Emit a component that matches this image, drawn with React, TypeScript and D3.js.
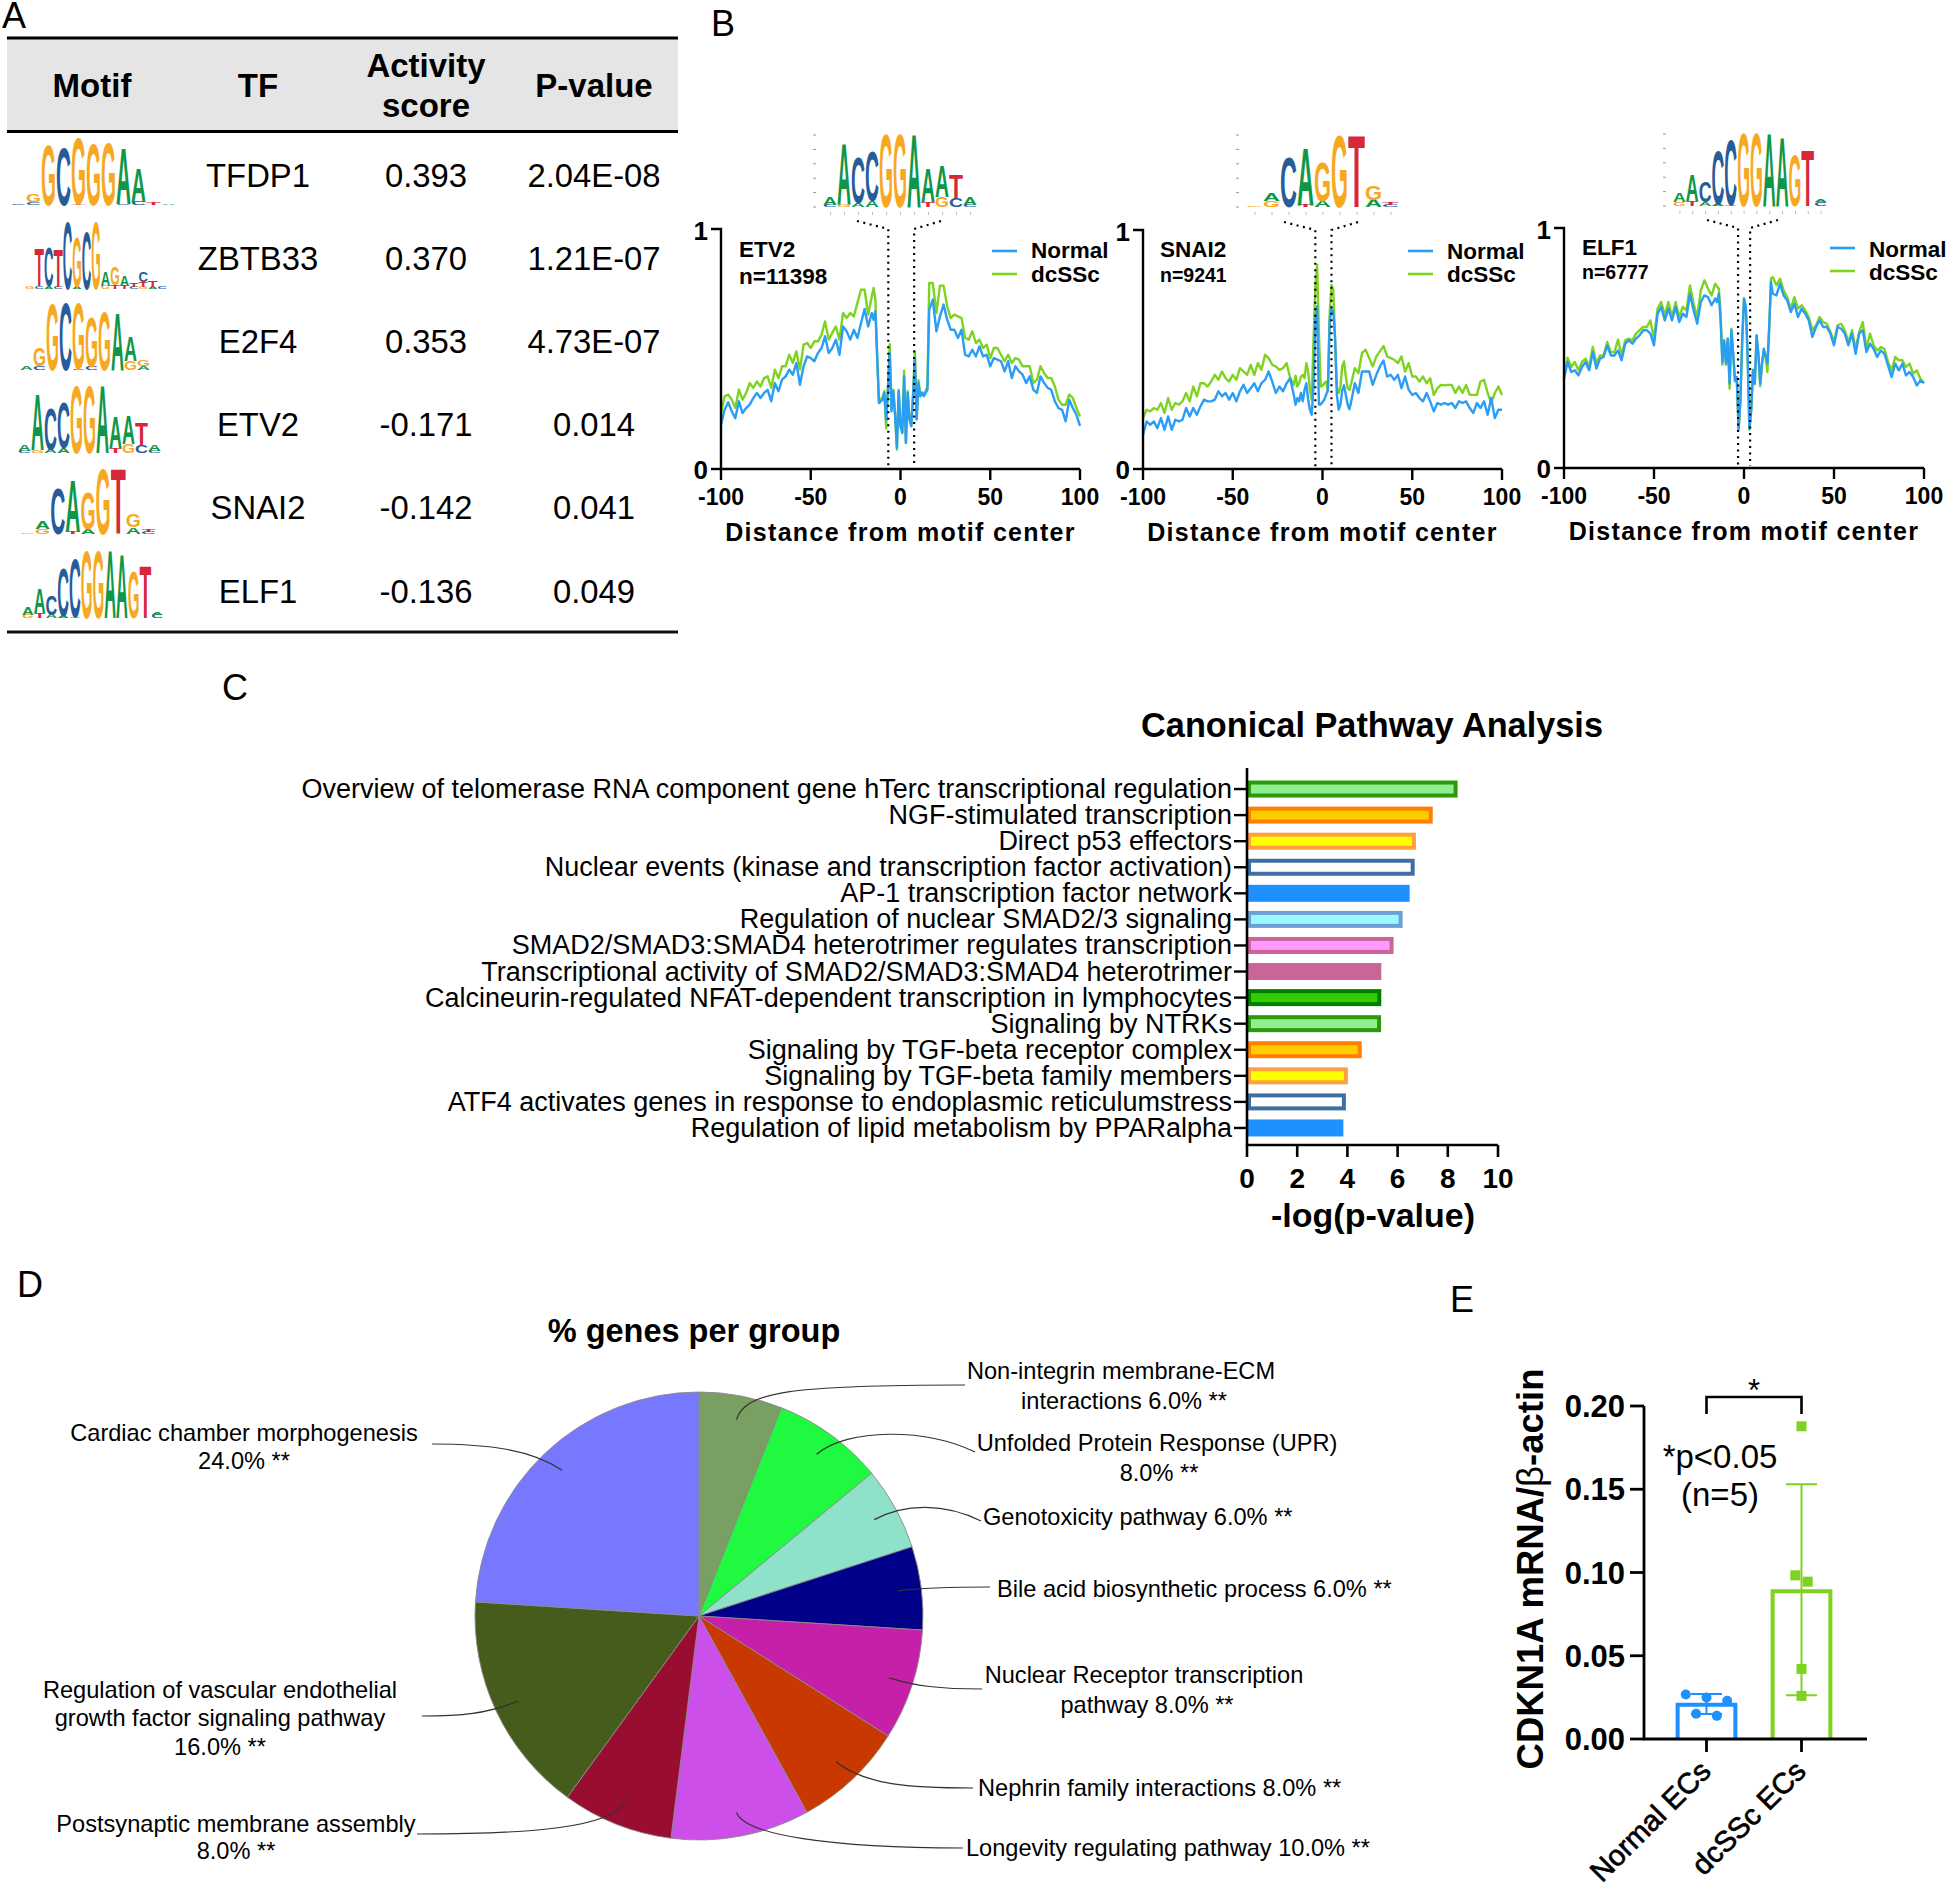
import React from "react";
import * as d3 from "d3";

const FONT = "'Liberation Sans', Arial, sans-serif";

// ---- Panel A table + motif logos
type LogoColumn = [string, number][];

const logoTfdp1: LogoColumn[] = [
  [["C", 0.02]], [["C", 0.04], ["G", 0.11]], [["G", 0.9]], [["C", 0.85]], [["T", 0.02], ["G", 0.98]],
  [["G", 0.92]], [["G", 0.93]], [["C", 0.02], ["A", 0.83]], [["C", 0.05], ["A", 0.5]], [["T", 0.03]], [["A", 0.02]],
];
const logoZbtb33: LogoColumn[] = [
  [["G", 0.03]], [["C", 0.04], ["T", 0.57]], [["A", 0.04], ["C", 0.58]], [["C", 0.03], ["T", 0.57]], [["C", 1]],
  [["A", 0.03], ["G", 0.74]], [["C", 0.85]], [["G", 1]], [["G", 0.05], ["A", 0.22]], [["T", 0.06], ["G", 0.27]],
  [["T", 0.05], ["A", 0.15]], [["C", 0.03], ["T", 0.06]], [["G", 0.03], ["T", 0.08], ["C", 0.16]], [["A", 0.03], ["T", 0.09]], [["C", 0.03]],
];
const logoE2f4: LogoColumn[] = [
  [["A", 0.05]], [["C", 0.06], ["G", 0.26]], [["G", 0.98]], [["C", 1]], [["C", 0.02], ["G", 0.98]],
  [["C", 0.05], ["G", 0.74]], [["G", 0.88]], [["A", 0.85]], [["G", 0.14], ["A", 0.36]], [["A", 0.06], ["G", 0.09]],
];
const logoEtv2: LogoColumn[] = [
  [["C", 0.03], ["A", 0.1]], [["G", 0.04], ["A", 0.83]], [["A", 0.05], ["C", 0.62]], [["A", 0.08], ["C", 0.67]], [["G", 1]],
  [["G", 1]], [["A", 1]], [["T", 0.07], ["A", 0.46]], [["G", 0.14], ["A", 0.42]], [["C", 0.12], ["T", 0.32]], [["C", 0.03], ["A", 0.1]],
];
const logoSnai2: LogoColumn[] = [
  [["G", 0.02]], [["G", 0.08], ["A", 0.11]], [["C", 0.68]], [["T", 0.03], ["A", 0.78]], [["A", 0.08], ["G", 0.54]],
  [["G", 0.97]], [["T", 0.97]], [["A", 0.1], ["G", 0.2]], [["C", 0.03], ["T", 0.03]],
];
const logoElf1: LogoColumn[] = [
  [["G", 0.05], ["A", 0.12]], [["T", 0.07], ["A", 0.36]], [["A", 0.05], ["C", 0.28]], [["A", 0.03], ["C", 0.72]], [["A", 0.02], ["C", 0.88]],
  [["G", 1]], [["G", 1]], [["A", 1]], [["A", 0.95]], [["G", 0.7]], [["T", 0.77]], [["C", 0.05], ["A", 0.04]],
];

const motifHeader = ["Motif", "TF", "P-value"];
const tfNames = ["TFDP1", "ZBTB33", "E2F4", "ETV2", "SNAI2", "ELF1"];
const activityScores = ["0.393", "0.370", "0.353", "-0.171", "-0.142", "-0.136"];
const pValues = ["2.04E-08", "1.21E-07", "4.73E-07", "0.014", "0.041", "0.049"];
const tableLogos = [logoTfdp1, logoZbtb33, logoE2f4, logoEtv2, logoSnai2, logoElf1];
const tableLogoBoxes = [[11, 176, 205], [25, 167, 289], [20, 150, 370], [18, 161, 453], [20, 156, 534], [22, 163, 618]];

// ---- Panel B footprints
const distances = [...d3.range(-100, -15, 2), ...d3.range(-15, 16), ...d3.range(16, 101, 2)];

const etv2Normal = [
  0.185, 0.247, 0.278, 0.24, 0.212, 0.282, 0.233, 0.254, 0.268, 0.296,
  0.317, 0.296, 0.317, 0.33, 0.282, 0.358, 0.324, 0.372, 0.386, 0.414,
  0.393, 0.442, 0.351, 0.428, 0.469, 0.462, 0.449, 0.483, 0.504, 0.553,
  0.483, 0.504, 0.539, 0.476, 0.594, 0.574, 0.539, 0.58, 0.546, 0.608,
  0.667, 0.594, 0.65,
  0.622, 0.657, 0.47, 0.275, 0.282, 0.289, 0.317, 0.206, 0.33, 0.483, 0.24, 0.324, 0.22, 0.0875, 0.324, 0.178,
  0.15, 0.386, 0.108, 0.317, 0.206, 0.178, 0.303, 0.4625, 0.206, 0.358, 0.303, 0.317, 0.303, 0.317, 0.33,
  0.664, 0.706, 0.574, 0.636, 0.685, 0.622, 0.58, 0.58, 0.546, 0.58,
  0.476, 0.469, 0.497, 0.469, 0.511, 0.469, 0.476, 0.428, 0.4625, 0.456,
  0.449, 0.407, 0.449, 0.379, 0.428, 0.407, 0.393, 0.358, 0.386, 0.33,
  0.317, 0.386, 0.358, 0.338, 0.33, 0.282, 0.254, 0.247, 0.199, 0.289,
  0.254, 0.226, 0.18,
];
const etv2Dcssc = [
  0.233, 0.303, 0.31, 0.289, 0.254, 0.331, 0.289, 0.317, 0.358, 0.338,
  0.365, 0.344, 0.379, 0.386, 0.338, 0.414, 0.379, 0.428, 0.428, 0.476,
  0.442, 0.49, 0.414, 0.518, 0.525, 0.504, 0.532, 0.532, 0.56, 0.615,
  0.539, 0.567, 0.594, 0.539, 0.65, 0.629, 0.65, 0.636, 0.692, 0.747,
  0.747, 0.643, 0.719,
  0.754, 0.706, 0.47, 0.285, 0.29, 0.3, 0.325, 0.17, 0.34, 0.52, 0.25, 0.33, 0.23, 0.08, 0.33, 0.18,
  0.155, 0.41, 0.11, 0.325, 0.21, 0.18, 0.31, 0.49, 0.21, 0.37, 0.31, 0.32, 0.31, 0.325, 0.345,
  0.775, 0.775, 0.65, 0.764, 0.764, 0.678, 0.629, 0.643, 0.636, 0.629,
  0.546, 0.539, 0.574, 0.525, 0.539, 0.504, 0.518, 0.4625, 0.504, 0.504,
  0.476, 0.449, 0.476, 0.442, 0.4625, 0.456, 0.428, 0.428, 0.428, 0.358,
  0.372, 0.428, 0.4, 0.379, 0.379, 0.344, 0.289, 0.268, 0.268, 0.31,
  0.296, 0.254, 0.219,
];
const snai2Normal = [
  0.143, 0.199, 0.185, 0.199, 0.171, 0.213, 0.164, 0.22, 0.164, 0.206,
  0.199, 0.206, 0.255, 0.22, 0.255, 0.227, 0.262, 0.29, 0.283, 0.283,
  0.29, 0.325, 0.304, 0.318, 0.29, 0.318, 0.283, 0.325, 0.352, 0.318,
  0.338, 0.359, 0.325, 0.359, 0.373, 0.408, 0.366, 0.318, 0.345, 0.325,
  0.359, 0.38, 0.31,
  0.269, 0.297, 0.283, 0.318, 0.283, 0.331, 0.359, 0.29, 0.248, 0.227, 0.35, 0.62, 0.68, 0.27, 0.27, 0.28,
  0.29, 0.31, 0.33, 0.62, 0.67, 0.66, 0.55, 0.31, 0.248, 0.27, 0.33, 0.35, 0.31, 0.27, 0.25,
  0.283, 0.359, 0.318, 0.408, 0.408, 0.408, 0.352, 0.394, 0.429, 0.454,
  0.387, 0.394, 0.373, 0.394, 0.338, 0.387, 0.331, 0.31, 0.318, 0.297,
  0.283, 0.318, 0.283, 0.241, 0.276, 0.269, 0.276, 0.269, 0.276, 0.255,
  0.283, 0.276, 0.283, 0.255, 0.234, 0.276, 0.255, 0.283, 0.227, 0.297,
  0.213, 0.248, 0.248,
];
const snai2Dcssc = [
  0.213, 0.248, 0.241, 0.255, 0.248, 0.276, 0.234, 0.297, 0.248, 0.276,
  0.269, 0.283, 0.318, 0.283, 0.345, 0.304, 0.359, 0.359, 0.345, 0.366,
  0.394, 0.373, 0.408, 0.38, 0.366, 0.394, 0.373, 0.422, 0.408, 0.394,
  0.436, 0.394, 0.443, 0.415, 0.478, 0.464, 0.436, 0.429, 0.415, 0.422,
  0.443, 0.38, 0.352,
  0.39, 0.345, 0.359, 0.387, 0.394, 0.38, 0.443, 0.408, 0.331, 0.29, 0.54, 0.763, 0.854, 0.568, 0.345, 0.348,
  0.359, 0.366, 0.325, 0.652, 0.77, 0.749, 0.54, 0.345, 0.318, 0.345, 0.429, 0.45, 0.387, 0.338, 0.331,
  0.359, 0.422, 0.401, 0.485, 0.499, 0.464, 0.429, 0.471, 0.492, 0.515,
  0.471, 0.464, 0.457, 0.443, 0.471, 0.408, 0.443, 0.387, 0.387, 0.366,
  0.387, 0.359, 0.38, 0.31, 0.338, 0.352, 0.35, 0.352, 0.352, 0.318,
  0.345, 0.318, 0.352, 0.31, 0.31, 0.31, 0.366, 0.373, 0.318, 0.276,
  0.318, 0.345, 0.31,
];
const elf1Normal = [
  0.372, 0.442, 0.4, 0.407, 0.386, 0.421, 0.442, 0.407, 0.483, 0.414,
  0.456, 0.4625, 0.511, 0.469, 0.469, 0.49, 0.449, 0.518, 0.532, 0.518,
  0.539, 0.553, 0.574, 0.574, 0.56, 0.511, 0.643, 0.671, 0.615, 0.664,
  0.615, 0.671, 0.608, 0.643, 0.629, 0.726, 0.657, 0.601, 0.692, 0.719,
  0.712, 0.678, 0.706,
  0.692, 0.726, 0.615, 0.442, 0.532, 0.435, 0.539, 0.351, 0.574, 0.476, 0.365, 0.379, 0.164, 0.282, 0.532, 0.706,
  0.671, 0.476, 0.164, 0.24, 0.407, 0.351, 0.553, 0.476, 0.351, 0.435, 0.497, 0.469, 0.435, 0.5875, 0.775,
  0.726, 0.719, 0.768, 0.719, 0.699, 0.65, 0.685, 0.629, 0.664, 0.643,
  0.615, 0.546, 0.5875, 0.615, 0.5875, 0.5875, 0.56, 0.511, 0.5875, 0.58,
  0.56, 0.511, 0.56, 0.476, 0.56, 0.574, 0.483, 0.518, 0.497, 0.4625,
  0.49, 0.476, 0.428, 0.379, 0.435, 0.407, 0.435, 0.386, 0.4, 0.379,
  0.344, 0.365, 0.354,
];
const elf1Dcssc = [
  0.379, 0.46, 0.421, 0.442, 0.407, 0.442, 0.456, 0.421, 0.504, 0.435,
  0.469, 0.469, 0.525, 0.483, 0.483, 0.535, 0.469, 0.532, 0.539, 0.532,
  0.56, 0.574, 0.5875, 0.5875, 0.615, 0.539, 0.664, 0.692, 0.636, 0.692,
  0.629, 0.692, 0.629, 0.671, 0.657, 0.761, 0.685, 0.629, 0.74, 0.782,
  0.747, 0.719, 0.768,
  0.757, 0.747, 0.643, 0.43, 0.52, 0.43, 0.54, 0.33, 0.58, 0.47, 0.36, 0.37, 0.16, 0.28, 0.53, 0.705,
  0.67, 0.47, 0.16, 0.24, 0.41, 0.35, 0.55, 0.47, 0.34, 0.43, 0.49, 0.46, 0.4, 0.58, 0.79,
  0.796, 0.761, 0.789, 0.74, 0.712, 0.664, 0.712, 0.664, 0.678, 0.657,
  0.629, 0.574, 0.594, 0.629, 0.608, 0.601, 0.567, 0.525, 0.594, 0.601,
  0.574, 0.525, 0.574, 0.497, 0.567, 0.608, 0.497, 0.56, 0.511, 0.49,
  0.504, 0.497, 0.442, 0.407, 0.4625, 0.449, 0.449, 0.421, 0.435, 0.393,
  0.407, 0.372, 0.354,
];

// ---- Panel C bars
const pathways = [
  "Overview of telomerase RNA component gene hTerc transcriptional regulation",
  "NGF-stimulated transcription",
  "Direct p53 effectors",
  "Nuclear events (kinase and transcription factor activation)",
  "AP-1 transcription factor network",
  "Regulation of nuclear SMAD2/3 signaling",
  "SMAD2/SMAD3:SMAD4 heterotrimer regulates transcription",
  "Transcriptional activity of SMAD2/SMAD3:SMAD4 heterotrimer",
  "Calcineurin-regulated NFAT-dependent transcription in lymphocytes",
  "Signaling by NTRKs",
  "Signaling by TGF-beta receptor complex",
  "Signaling by TGF-beta family members",
  "ATF4 activates genes in response to endoplasmic reticulumstress",
  "Regulation of lipid metabolism by PPARalpha",
];
const pathwayScores = [8.39, 7.4, 6.73, 6.68, 6.48, 6.2, 5.84, 5.35, 5.35, 5.34, 4.57, 4.02, 3.94, 3.84];
const barStrokes = ["#2a9a0a", "#ff7f00", "#ff9f40", "#3e6fa3", "#1e90ff", "#6c9fd6", "#c96598", "#c96598", "#007f00", "#2a9a0a", "#ff7f00", "#ff9f40", "#3e6fa3", "#1e90ff"];
const barFills = ["#90ee90", "#ffcc00", "#ffff00", "#ffffff", "#1e90ff", "#99f9ff", "#ff99ff", "#c96598", "#33cc00", "#90ee90", "#ffcc00", "#ffff00", "#ffffff", "#1e90ff"];

// ---- Panel D pie
const pieShares = [6, 8, 6, 6, 8, 8, 10, 8, 16, 24];
const pieColors = ["#7a9f62", "#1ffa40", "#8ee2c9", "#000088", "#c720a8", "#c93800", "#cc4fea", "#990d30", "#465c1c", "#7878ff"];
// leader curve per slice: control 1, control 2, end
const leaderCurves = [
  [745, 1392, 790, 1385, 965, 1385],
  [848, 1428, 925, 1428, 975, 1452],
  [905, 1503, 945, 1503, 981, 1521],
  [920, 1588, 950, 1587, 990, 1587],
  [915, 1686, 940, 1689, 982, 1689],
  [865, 1785, 910, 1788, 973, 1788],
  [745, 1835, 830, 1848, 963, 1848],
  [610, 1828, 530, 1834, 417, 1834],
  [487, 1714, 460, 1716, 422, 1716],
  [532, 1450, 490, 1444, 432, 1444],
];
const pieLabels: [string, string, number, number][] = [
  ["Cardiac chamber morphogenesis", "middle", 244, 1441],
  ["24.0% **", "middle", 244, 1469],
  ["Non-integrin membrane-ECM", "middle", 1121, 1379],
  ["interactions 6.0% **", "middle", 1124, 1409],
  ["Unfolded Protein Response (UPR)", "middle", 1157, 1451],
  ["8.0% **", "middle", 1159, 1481],
  ["Genotoxicity pathway 6.0% **", "start", 983, 1525],
  ["Bile acid biosynthetic process 6.0% **", "start", 997, 1597],
  ["Nuclear Receptor transcription", "middle", 1144, 1683],
  ["pathway 8.0% **", "middle", 1147, 1713],
  ["Nephrin family interactions 8.0% **", "start", 978, 1796],
  ["Longevity regulating pathway 10.0% **", "start", 966, 1856],
  ["Regulation of vascular endothelial", "middle", 220, 1698],
  ["growth factor signaling pathway", "middle", 220, 1726],
  ["16.0% **", "middle", 220, 1755],
  ["Postsynaptic membrane assembly", "middle", 236, 1832],
  ["8.0% **", "middle", 236, 1859],
];

// ---- Panel E qPCR
const groups = ["Normal ECs", "dcSSc ECs"];
const groupColors = ["#1e90ff", "#7ed321"];
const groupMeans = [0.0206, 0.0888];
const groupErrLow = [0.015, 0.0263];
const groupErrHigh = [0.027, 0.153];
const groupPoints = [
  [0.0267, 0.025, 0.023, 0.0152, 0.0139],
  [0.1878, 0.0983, 0.0945, 0.0421, 0.0259],
];
const groupJitter = [
  [-1, 0, 1, -0.5, 0.5],
  [0, -0.3, 0.3, 0, 0],
];
const qpcrTicks = [0, 0.05, 0.1, 0.15, 0.2];
const bracketTop = 0.2054;
const bracketFoot = 0.1952;

const LOGO_COLORS: Record<string, string> = { A: "#109648", C: "#255c99", G: "#f7a823", T: "#d62839" };
const LETTER_W: Record<string, number> = { A: 72.2, C: 72.2, G: 77.8, T: 61.1 };

function Logo({ columns, x0, x1, baseline, height = 66, axis = false }: { columns: LogoColumn[]; x0: number; x1: number; baseline: number; height?: number; axis?: boolean }) {
  const xBand = d3.scaleBand<number>().domain(d3.range(columns.length)).range([x0, x1]);
  const yH = d3.scaleLinear().domain([0, 1]).range([0, height]);
  return (
    <g>
      {columns.map((col, i) => {
        let acc = 0;
        return col.map(([letter, h], j) => {
          // bold cap height of the font is about 69 at size 100
          const sy = yH(h) / 69;
          const sx = xBand.bandwidth() / LETTER_W[letter];
          const y = baseline - yH(acc);
          acc += h;
          return (
            <text key={i + "-" + j} fontSize={100} fontWeight="bold" fontFamily={FONT} fill={LOGO_COLORS[letter]}
              transform={`translate(${xBand(i)},${y}) scale(${sx},${sy})`}>{letter}</text>
          );
        });
      })}
      {axis && yH.ticks(4).map((t) => (
        <rect key={t} x={x0 - 10} y={baseline - yH(t) - 0.5} width={3} height={1} fill="#999" />
      ))}
      {axis && columns.map((_, i) => (
        <rect key={i} x={(xBand(i) || 0) + xBand.bandwidth() / 2} y={baseline + 5} width={1} height={3} fill="#bbb" />
      ))}
    </g>
  );
}

function TablePanel() {
  const left = 7, right = 678;
  const cols = [92, 258, 426, 594];
  return (
    <g fontFamily={FONT} fill="#000">
      <rect x={left} y={38} width={right - left} height={93.5} fill="#e5e5e5" />
      <line x1={left} x2={right} y1={38} y2={38} stroke="#000" strokeWidth={3} />
      <line x1={left} x2={right} y1={131.5} y2={131.5} stroke="#000" strokeWidth={3} />
      <line x1={left} x2={right} y1={632} y2={632} stroke="#111" strokeWidth={3} />
      <g fontSize={33} fontWeight="bold" textAnchor="middle">
        <text x={cols[0]} y={97}>{motifHeader[0]}</text>
        <text x={cols[1]} y={97}>{motifHeader[1]}</text>
        <text x={cols[2]} y={77}>Activity</text>
        <text x={cols[2]} y={117}>score</text>
        <text x={cols[3]} y={97}>{motifHeader[2]}</text>
      </g>
      {tfNames.map((tf, i) => {
        const y = 186.5 + i * 83.2;
        const [x0, x1, baseline] = tableLogoBoxes[i];
        return (
          <g key={tf}>
            <Logo columns={tableLogos[i]} x0={x0} x1={x1} baseline={baseline} />
            <g fontSize={32.8} textAnchor="middle">
              <text x={cols[1]} y={y}>{tf}</text>
              <text x={cols[2]} y={y}>{activityScores[i]}</text>
              <text x={cols[3]} y={y}>{pValues[i]}</text>
            </g>
          </g>
        );
      })}
    </g>
  );
}

type FootprintProps = {
  name: string; count: string; nSize: number; normal: number[]; dcssc: number[]; logo: LogoColumn[];
  x0: number; x1: number; yTop: number; yBase: number; logoBox: number[]; dots: number[]; links: number[];
  nameY: number; countY: number; nameX: number; legendX: number; legendY: number[]; legendText: number[];
};

function Footprint(p: FootprintProps) {
  const x = d3.scaleLinear().domain([-100, 100]).range([p.x0, p.x1]);
  const y = d3.scaleLinear().domain([0, 1]).range([p.yBase, p.yTop]);
  const line = d3.line<number>().x((_, i) => x(distances[i])).y((d) => y(d)).curve(d3.curveLinear);
  const mid = (p.x0 + p.x1) / 2;
  return (
    <g fontFamily={FONT} fill="#000">
      <Logo columns={p.logo} x0={p.logoBox[0]} x1={p.logoBox[1]} baseline={p.logoBox[2]} height={72} axis />
      <path d={line(p.dcssc) || ""} fill="none" stroke="#7ed321" strokeWidth={2.4} strokeLinejoin="round" />
      <path d={line(p.normal) || ""} fill="none" stroke="#2a9df4" strokeWidth={2.4} strokeLinejoin="round" />
      {p.dots.map((d, i) => (
        <polyline key={d} fill="none" stroke="#000" strokeWidth={2.2} strokeDasharray="2 4.5"
          points={`${p.links[i]},${p.yTop - 8} ${x(d)},${p.yTop} ${x(d)},${p.yBase - 2}`} />
      ))}
      <path d={`M${p.x0 - 10},${p.yTop}H${p.x0}V${p.yBase}H${p.x1}`} fill="none" stroke="#000" strokeWidth={2.4} />
      <line x1={p.x0 - 10} x2={p.x0} y1={p.yBase} y2={p.yBase} stroke="#000" strokeWidth={2.4} />
      {x.ticks(4).map((t) => (
        <g key={t}>
          <line x1={x(t)} x2={x(t)} y1={p.yBase} y2={p.yBase + 11} stroke="#000" strokeWidth={2.4} />
          <text x={x(t)} y={p.yBase + 36} fontSize={23} fontWeight="bold" textAnchor="middle">{t}</text>
        </g>
      ))}
      <text x={p.x0 - 13} y={p.yTop + 11} fontSize={26} fontWeight="bold" textAnchor="end">1</text>
      <text x={p.x0 - 13} y={p.yBase + 10} fontSize={26} fontWeight="bold" textAnchor="end">0</text>
      <text x={mid} y={p.yBase + 72} fontSize={25} fontWeight="bold" letterSpacing={1.3} textAnchor="middle">Distance from motif center</text>
      <text x={p.nameX} y={p.nameY} fontSize={22.5} fontWeight="bold">{p.name}</text>
      <text x={p.nameX} y={p.countY} fontSize={p.nSize} fontWeight="bold">{p.count}</text>
      <line x1={p.legendX} x2={p.legendX + 25} y1={p.legendY[0]} y2={p.legendY[0]} stroke="#2a9df4" strokeWidth={2.6} />
      <line x1={p.legendX} x2={p.legendX + 25} y1={p.legendY[1]} y2={p.legendY[1]} stroke="#7ed321" strokeWidth={2.6} />
      <text x={p.legendX + 39} y={p.legendText[0]} fontSize={22.5} fontWeight="bold">Normal</text>
      <text x={p.legendX + 39} y={p.legendText[1]} fontSize={22.5} fontWeight="bold">dcSSc</text>
    </g>
  );
}

function PathwayPanel() {
  const x = d3.scaleLinear().domain([0, 10]).range([1247, 1498]);
  const y = d3.scaleBand().domain(pathways).range([776, 1141]).paddingInner(0.35).paddingOuter(0.175);
  const sw = 4;
  return (
    <g fontFamily={FONT} fill="#000">
      <text x={1372} y={737} fontSize={34.3} fontWeight="bold" textAnchor="middle">Canonical Pathway Analysis</text>
      {pathways.map((name, i) => {
        const cy = (y(name) || 0) + y.bandwidth() / 2;
        return (
          <g key={name}>
            <line x1={1234} x2={1247} y1={cy} y2={cy} stroke="#000" strokeWidth={2.4} />
            <text x={1232} y={cy + 9} fontSize={27} textAnchor="end">{name}</text>
            <rect x={x(0) + sw / 2} y={cy - 8.5 + sw / 2} width={x(pathwayScores[i]) - x(0) - sw} height={17 - sw}
              fill={barFills[i]} stroke={barStrokes[i]} strokeWidth={sw} />
          </g>
        );
      })}
      <path d={`M1247,768V1145H1498`} fill="none" stroke="#000" strokeWidth={2.6} />
      {x.ticks(5).map((t) => (
        <g key={t}>
          <line x1={x(t)} x2={x(t)} y1={1145} y2={1157} stroke="#000" strokeWidth={2.6} />
          <text x={x(t)} y={1188} fontSize={28} fontWeight="bold" textAnchor="middle">{t}</text>
        </g>
      ))}
      <text x={1373} y={1227} fontSize={34} fontWeight="bold" textAnchor="middle">-log(p-value)</text>
    </g>
  );
}

function PiePanel() {
  const cx = 699, cy = 1616, r = 224;
  const arcs = d3.pie<number>().sort(null)(pieShares);
  const slice = d3.arc<d3.PieArcDatum<number>>().innerRadius(0).outerRadius(r);
  const anchor = d3.arc<d3.PieArcDatum<number>>().innerRadius(200).outerRadius(200);
  return (
    <g fontFamily={FONT} fill="#000">
      <text x={694} y={1342} fontSize={32.5} fontWeight="bold" textAnchor="middle">% genes per group</text>
      <g transform={`translate(${cx},${cy})`}>
        {arcs.map((a, i) => (
          <path key={i} d={slice(a) || ""} fill={pieColors[i]} stroke="#8a8a8a" strokeWidth={0.9} />
        ))}
      </g>
      {arcs.map((a, i) => {
        const [sx, sy] = anchor.centroid(a);
        const [c1x, c1y, c2x, c2y, ex, ey] = leaderCurves[i];
        const path = d3.path();
        path.moveTo(cx + sx, cy + sy);
        path.bezierCurveTo(c1x, c1y, c2x, c2y, ex, ey);
        return <path key={i} d={path.toString()} fill="none" stroke="#333" strokeWidth={1.2} />;
      })}
      {pieLabels.map(([label, anchorName, x, y], i) => (
        <text key={i} x={x} y={y} fontSize={23.6} textAnchor={anchorName}>{label}</text>
      ))}
    </g>
  );
}

function QpcrPanel() {
  const y = d3.scaleLinear().domain([0, 0.2]).range([1739, 1406]);
  // bar centres sit 95px apart, 62px wide
  const x = d3.scaleBand().domain(groups).range([1659, 1849]).paddingInner(0.35).paddingOuter(0.175);
  const jitter = d3.scaleLinear().domain([-1, 1]).range([-20.7, 20.7]);
  const center = (g: string) => (x(g) || 0) + x.bandwidth() / 2;
  const sw = 4;
  return (
    <g fontFamily={FONT} fill="#000">
      {groups.map((g, i) => {
        const c = center(g);
        return (
          <g key={g}>
            <path d={`M${c - x.bandwidth() / 2 + sw / 2},${y(0)}V${y(groupMeans[i])}H${c + x.bandwidth() / 2 - sw / 2}V${y(0)}`}
              fill="none" stroke={groupColors[i]} strokeWidth={sw} />
            <path d={`M${c - 15.5},${y(groupErrHigh[i])}H${c + 15.5}M${c},${y(groupErrHigh[i])}V${y(groupErrLow[i])}M${c - 15.5},${y(groupErrLow[i])}H${c + 15.5}`}
              fill="none" stroke={groupColors[i]} strokeWidth={2} />
            {groupPoints[i].map((v, j) =>
              i === 0 ? (
                <circle key={j} cx={c + jitter(groupJitter[i][j])} cy={y(v)} r={5} fill={groupColors[i]} />
              ) : (
                <rect key={j} x={c + jitter(groupJitter[i][j]) - 5} y={y(v) - 5} width={10} height={10} fill={groupColors[i]} />
              )
            )}
            <line x1={c} x2={c} y1={y(0)} y2={1752} stroke="#000" strokeWidth={2.8} />
            <text transform={`translate(${c + 6},1773) rotate(-45)`} fontSize={29} textAnchor="end" stroke="#000" strokeWidth={0.7}>{g}</text>
          </g>
        );
      })}
      <path d={`M1644,${y(0.2)}V${y(0)}H1867`} fill="none" stroke="#000" strokeWidth={2.8} />
      {qpcrTicks.map((t) => (
        <g key={t}>
          <line x1={1630} x2={1644} y1={y(t)} y2={y(t)} stroke="#000" strokeWidth={2.8} />
          <text x={1625} y={y(t) + 11} fontSize={31} fontWeight="bold" textAnchor="end">{t.toFixed(2)}</text>
        </g>
      ))}
      <text transform="translate(1543,1569) rotate(-90)" fontSize={36.5} fontWeight="bold" textAnchor="middle">
        CDKN1A mRNA/<tspan fontWeight="normal">β</tspan>-actin
      </text>
      <path d={`M${center(groups[0])},${y(bracketFoot)}V${y(bracketTop)}H${center(groups[1])}V${y(bracketFoot)}`} fill="none" stroke="#000" strokeWidth={2.6} />
      <text x={1754} y={1401} fontSize={31} textAnchor="middle">*</text>
      <text x={1720} y={1468} fontSize={33} textAnchor="middle">*p&lt;0.05</text>
      <text x={1720} y={1506} fontSize={33} textAnchor="middle">(n=5)</text>
    </g>
  );
}

const panelLetters: [string, number, number][] = [
  ["A", 2, 28], ["B", 711, 36], ["C", 222, 700], ["D", 17, 1297], ["E", 1450, 1312],
];

export default function App() {
  return (
    <svg width={1950} height={1888} style={{ position: "absolute", left: 0, top: 0, background: "#fff" }}>
      {panelLetters.map(([t, x, y]) => (
        <text key={t} x={x} y={y} fontFamily={FONT} fontSize={36}>{t}</text>
      ))}
      <TablePanel />
      <Footprint name="ETV2" count="n=11398" nSize={22.5} normal={etv2Normal} dcssc={etv2Dcssc} logo={logoEtv2}
        x0={721} x1={1080} yTop={229} yBase={469} logoBox={[823, 977, 207]} dots={[-6.8, 7.6]} links={[857, 941]}
        nameX={739} nameY={257} countY={284} legendX={992} legendY={[251, 274]} legendText={[258, 282]} />
      <Footprint name="SNAI2" count="n=9241" nSize={19.5} normal={snai2Normal} dcssc={snai2Dcssc} logo={logoSnai2}
        x0={1143} x1={1502} yTop={230} yBase={469} logoBox={[1246, 1399, 207]} dots={[-4, 5]} links={[1284, 1358]}
        nameX={1160} nameY={257} countY={282} legendX={1408} legendY={[251, 274]} legendText={[259, 282]} />
      <Footprint name="ELF1" count="n=6777" nSize={19.5} normal={elf1Normal} dcssc={elf1Dcssc} logo={logoElf1}
        x0={1564} x1={1924} yTop={228} yBase={468} logoBox={[1673, 1827, 206]} dots={[-3.3, 3.4]} links={[1707, 1778]}
        nameX={1582} nameY={255} countY={279} legendX={1830} legendY={[248, 271]} legendText={[257, 280]} />
      <PathwayPanel />
      <PiePanel />
      <QpcrPanel />
    </svg>
  );
}
